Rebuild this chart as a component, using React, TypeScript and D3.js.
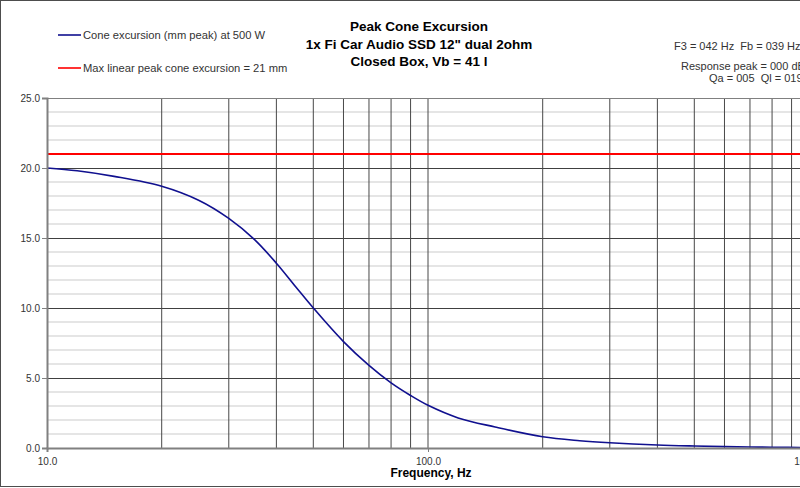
import React, { useEffect, useRef } from 'react';
import * as d3 from 'd3';

// excursion curve
const frequencies = [10, 12, 15, 20, 25, 30, 35, 40, 45, 50, 60, 70, 80, 90, 100, 120, 150, 200, 250, 300, 400, 500, 600, 700, 800, 1000];
const excursion = [20.0, 19.8, 19.4, 18.7, 17.7, 16.4, 14.9, 13.2, 11.5, 10.0, 7.6, 5.9, 4.65, 3.75, 3.05, 2.15, 1.5, 0.8, 0.52, 0.37, 0.21, 0.14, 0.1, 0.07, 0.055, 0.035];
const xmaxLimit = 21;

const xTicks = [10, 100, 1000];
const xGrid = [20, 30, 40, 50, 60, 70, 80, 90, 100, 200, 300, 400, 500, 600, 700, 800, 900];
const yTicks = [0, 5, 10, 15, 20, 25];
const yMinor = d3.range(1, 25).filter(v => v % 5 !== 0);

const titleLines = ['Peak Cone Excursion', '1x Fi Car Audio SSD 12" dual 2ohm', 'Closed Box, Vb = 41 l'];
const legendLabels = ['Cone excursion (mm peak) at 500 W', 'Max linear peak cone excursion = 21 mm'];
const infoLines = ['F3 = 042 Hz  Fb = 039 Hz', 'Response peak = 000 dB', 'Qa = 005  Ql = 019'];

const W = 800;
const H = 488;

function ExcursionChart() {
    const ref = useRef<SVGSVGElement | null>(null);

    useEffect(() => {
        const svg = d3.select(ref.current);
        svg.selectAll('*').remove();

        const left = 47, right = 809, top = 98, bottom = 448;
        const x = d3.scaleLog().domain([10, 1000]).range([left, right]);
        const y = d3.scaleLinear().domain([0, 25]).range([bottom, top]);

        // outer frame
        svg.append('rect')
            .attr('x', 0.5).attr('y', 0.5)
            .attr('width', 812).attr('height', 486)
            .attr('fill', '#fff')
            .attr('stroke', '#4d4d4d');

        const font = 'Arial, "Liberation Sans", sans-serif';

        // title
        svg.append('g').selectAll('text')
            .data(titleLines)
            .enter().append('text')
            .attr('x', 419)
            .attr('y', (d, i) => 31 + i * 17.5)
            .attr('text-anchor', 'middle')
            .attr('font-family', font)
            .attr('font-size', 13.5)
            .attr('font-weight', 'bold')
            .attr('fill', '#000')
            .text(d => d);

        // legend
        const legendColors = ['#10108f', '#ff0000'];
        const lg = svg.append('g');
        legendLabels.forEach((label, i) => {
            const ly = 35 + i * 33;
            lg.append('line')
                .attr('x1', 58).attr('x2', 81)
                .attr('y1', ly).attr('y2', ly)
                .attr('stroke', legendColors[i])
                .attr('stroke-width', 1.6);
            lg.append('text')
                .attr('x', 83).attr('y', ly + 4)
                .attr('font-family', font)
                .attr('font-size', 11.2)
                .attr('fill', '#333')
                .text(label);
        });

        // info box on the right
        const infoX = [674, 681, 709];
        const infoY = [50, 70, 82];
        svg.append('g').selectAll('text')
            .data(infoLines)
            .enter().append('text')
            .attr('x', (d, i) => infoX[i])
            .attr('y', (d, i) => infoY[i])
            .attr('font-family', font)
            .attr('font-size', 11)
            .attr('fill', '#333')
            .style('white-space', 'pre')
            .text(d => d);

        // minor horizontal grid
        svg.append('g').selectAll('line')
            .data(yMinor)
            .enter().append('line')
            .attr('x1', left).attr('x2', right)
            .attr('y1', d => y(d)).attr('y2', d => y(d))
            .attr('stroke', '#dcdcdc')
            .attr('stroke-width', 1.5);

        // major horizontal grid
        svg.append('g').selectAll('line')
            .data(yTicks.filter(v => v > 0 && v < 25))
            .enter().append('line')
            .attr('x1', left).attr('x2', right)
            .attr('y1', d => Math.round(y(d)) + 0.5).attr('y2', d => Math.round(y(d)) + 0.5)
            .attr('stroke', '#404040');

        // vertical grid
        svg.append('g').selectAll('line')
            .data(xGrid)
            .enter().append('line')
            .attr('x1', d => x(d)).attr('x2', d => x(d))
            .attr('y1', top).attr('y2', bottom)
            .attr('stroke', '#484848');

        // top border
        svg.append('line')
            .attr('x1', left).attr('x2', right)
            .attr('y1', top + 0.5).attr('y2', top + 0.5)
            .attr('stroke', '#808080');

        // Xmax line
        svg.append('line')
            .attr('x1', left).attr('x2', right)
            .attr('y1', y(xmaxLimit)).attr('y2', y(xmaxLimit))
            .attr('stroke', '#ff0000')
            .attr('stroke-width', 2);

        // excursion curve
        const line = d3.line<number>()
            .x((d, i) => x(frequencies[i]))
            .y(d => y(d))
            .curve(d3.curveCatmullRom.alpha(0.5));
        svg.append('path')
            .datum(excursion)
            .attr('d', line(excursion))
            .attr('fill', 'none')
            .attr('stroke', '#10108f')
            .attr('stroke-width', 1.6);

        // Y axis
        const yAxis = svg.append('g')
            .attr('transform', 'translate(' + left + ',0)')
            .call(d3.axisLeft(y).tickValues(yTicks).tickSize(5).tickPadding(2).tickFormat(d3.format('.1f')));
        yAxis.select('.domain').attr('stroke', '#808080').attr('stroke-width', 2);
        yAxis.selectAll('.tick line').attr('stroke', '#808080');
        yAxis.selectAll('text')
            .attr('font-family', font)
            .attr('font-size', 10)
            .attr('fill', '#333');

        // X axis
        const xAxis = svg.append('g')
            .attr('transform', 'translate(0,' + bottom + ')')
            .call(d3.axisBottom(x).tickValues(xTicks).tickSize(4).tickPadding(6).tickFormat(d3.format('.1f')));
        xAxis.select('.domain').attr('stroke', '#808080').attr('stroke-width', 2);
        xAxis.selectAll('.tick line').attr('stroke', '#808080');
        xAxis.selectAll('text')
            .attr('font-family', font)
            .attr('font-size', 10)
            .attr('fill', '#333');

        svg.append('text')
            .attr('x', 431).attr('y', 477)
            .attr('text-anchor', 'middle')
            .attr('font-family', font)
            .attr('font-size', 12)
            .attr('font-weight', 'bold')
            .attr('fill', '#000')
            .text('Frequency, Hz');
    }, []);

    return <svg ref={ref} width={W} height={H} style={{ position: 'absolute', left: 0, top: 0 }} />;
}

export default function App() {
    return <ExcursionChart />;
}
